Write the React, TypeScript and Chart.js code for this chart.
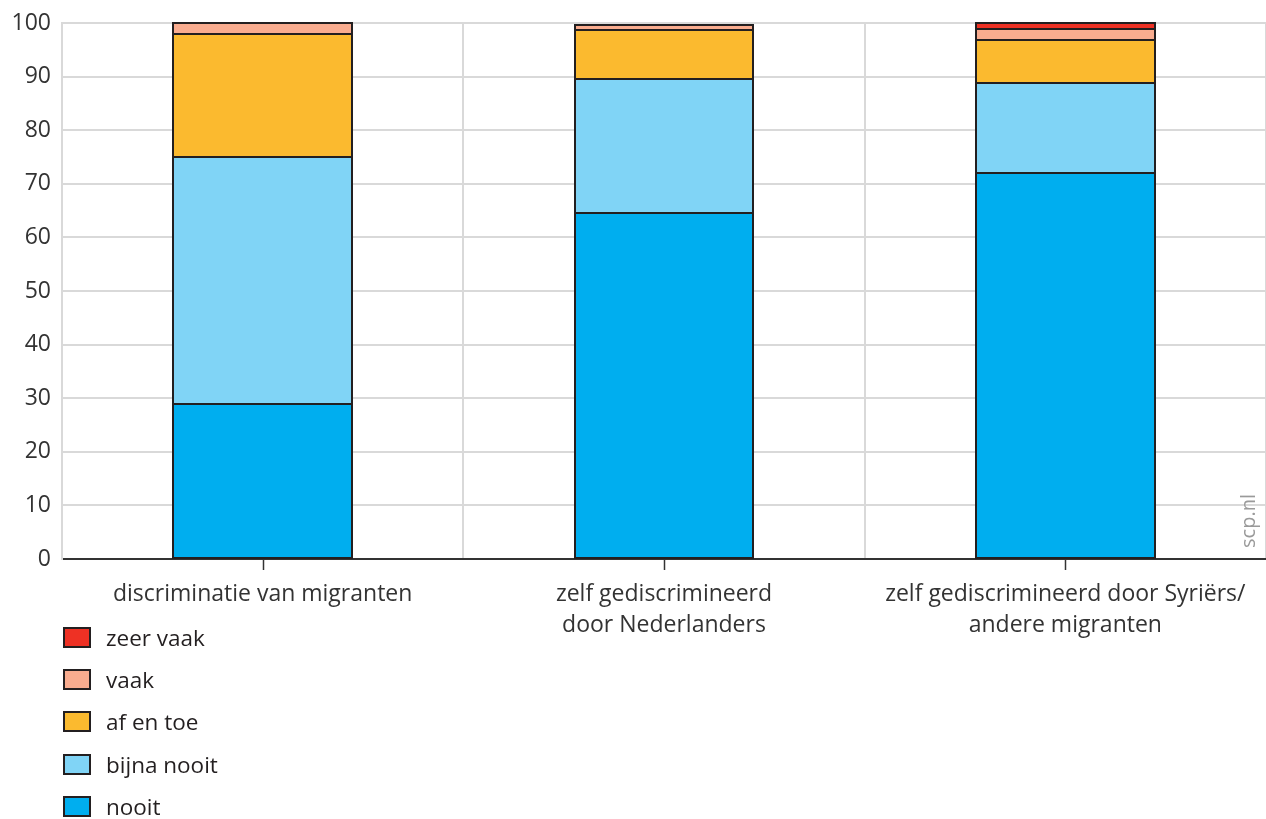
import React, { useEffect, useRef } from "react";
import { Chart, registerables } from "chart.js";

Chart.register(...registerables);

const categories: string[][] = [
  ["discriminatie van migranten"],
  ["zelf gediscrimineerd", "door Nederlanders"],
  ["zelf gediscrimineerd door Syriërs/", "andere migranten"],
];

const nooit = [29, 64.5, 72];
const bijnaNooit = [46, 25, 16.8];
const afEnToe = [23, 9.2, 8];
const vaak = [2, 0.9, 2.1];
const zeerVaak = [0, 0, 1.1];

const yTicks = [0, 10, 20, 30, 40, 50, 60, 70, 80, 90, 100];

const seriesNames = ["nooit", "bijna nooit", "af en toe", "vaak", "zeer vaak"];
const seriesColors = ["#00aeef", "#80d4f6", "#fbba2f", "#f9ac8f", "#ee3124"];

const FONT = "'Open Sans', 'Noto Sans', sans-serif";

const extras = {
  id: "extras",
  afterDatasetsDraw(chart: any) {
    // crisp 2px outlines around every stacked segment
    const ctx = chart.ctx;
    ctx.save();
    ctx.strokeStyle = "#231f20";
    ctx.lineWidth = 2;
    chart.data.datasets.forEach((_: any, di: number) => {
      chart.getDatasetMeta(di).data.forEach((bar: any) => {
        const h = Math.abs(bar.base - bar.y);
        if (h < 0.01) return;
        const l = Math.round(bar.x - bar.width / 2);
        const r = Math.round(bar.x + bar.width / 2);
        const t = Math.round(Math.min(bar.y, bar.base));
        const b = Math.round(Math.max(bar.y, bar.base));
        ctx.strokeRect(l, t, r - l, Math.max(b - t, 1));
      });
    });
    ctx.restore();
  },
  afterDraw(chart: any) {
    const ctx = chart.ctx;
    const x = chart.scales.x;
    const area = chart.chartArea;
    ctx.save();
    ctx.strokeStyle = "#333";
    ctx.lineWidth = 1.5;
    categories.forEach((_, i) => {
      const px = Math.round(x.getPixelForValue(i)) + 0.5;
      ctx.beginPath();
      ctx.moveTo(px, area.bottom);
      ctx.lineTo(px, area.bottom + 11);
      ctx.stroke();
    });
    ctx.translate(area.right - 17, area.bottom - 38);
    ctx.rotate(-Math.PI / 2);
    ctx.fillStyle = "#9a9a9a";
    ctx.font = `20px ${FONT}`;
    ctx.textAlign = "center";
    ctx.textBaseline = "middle";
    ctx.fillText("scp.nl", 0, 0);
    ctx.restore();
  },
};

export default function App() {
  const ref = useRef<HTMLCanvasElement>(null);
  useEffect(() => {
    const seriesData = [nooit, bijnaNooit, afEnToe, vaak, zeerVaak];
    const chart = new Chart(ref.current!, {
      type: "bar",
      data: {
        labels: categories,
        datasets: seriesNames.map((n, i) => ({
          label: n,
          data: seriesData[i],
          backgroundColor: seriesColors[i],
          borderWidth: 0,
          barPercentage: 0.445,
          categoryPercentage: 1,
        })),
      },
      options: {
        animation: false,
        responsive: false,
        maintainAspectRatio: false,
        layout: { padding: { top: 23, right: 0, left: 0, bottom: 0 } },
        plugins: { legend: { display: false }, tooltip: { enabled: false } },
        scales: {
          x: {
            stacked: true,
            grid: { offset: true, color: "#d9d9d9", lineWidth: 2, drawTicks: false },
            border: { display: true, color: "#333", width: 2 },
            ticks: {
              color: "#333",
              font: { family: FONT, size: 23, lineHeight: 1.35 },
              padding: 20,
              maxRotation: 0,
              autoSkip: false,
            },
            afterFit: (s: any) => {
              s.height = 260;
            },
          },
          y: {
            stacked: true,
            min: 0,
            max: 100,
            afterBuildTicks: (s: any) => {
              s.ticks = yTicks.map((v) => ({ value: v }));
            },
            grid: {
              color: (c: any) => (c.tick && c.tick.value === 0 ? "#333" : "#d9d9d9"),
              lineWidth: 2,
              drawTicks: false,
            },
            border: { display: true, color: "#d9d9d9", width: 2 },
            ticks: {
              color: "#333",
              font: { family: FONT, size: 23, lineHeight: 1 },
              padding: 11,
            },
            afterFit: (s: any) => {
              s.width = 62;
            },
          },
        },
      },
      plugins: [extras],
    });
    return () => chart.destroy();
  }, []);

  const legendItems = seriesNames.map((n, i) => ({ n, c: seriesColors[i] })).reverse();

  return (
    <div style={{ position: "absolute", left: 0, top: 0, width: 1266, height: 819, background: "#fff" }}>
      <canvas ref={ref} width={1266} height={819} style={{ display: "block" }} />
      <div style={{ position: "absolute", left: 63, top: 616, fontFamily: FONT, fontSize: 22.5, color: "#231f20" }}>
        {legendItems.map((it) => (
          <div key={it.n} style={{ display: "flex", alignItems: "center", height: 42.4 }}>
            <span
              style={{
                display: "inline-block",
                boxSizing: "border-box",
                width: 28,
                height: 21,
                background: it.c,
                border: "2px solid #231f20",
                marginRight: 15,
              }}
            />
            <span>{it.n}</span>
          </div>
        ))}
      </div>
    </div>
  );
}
